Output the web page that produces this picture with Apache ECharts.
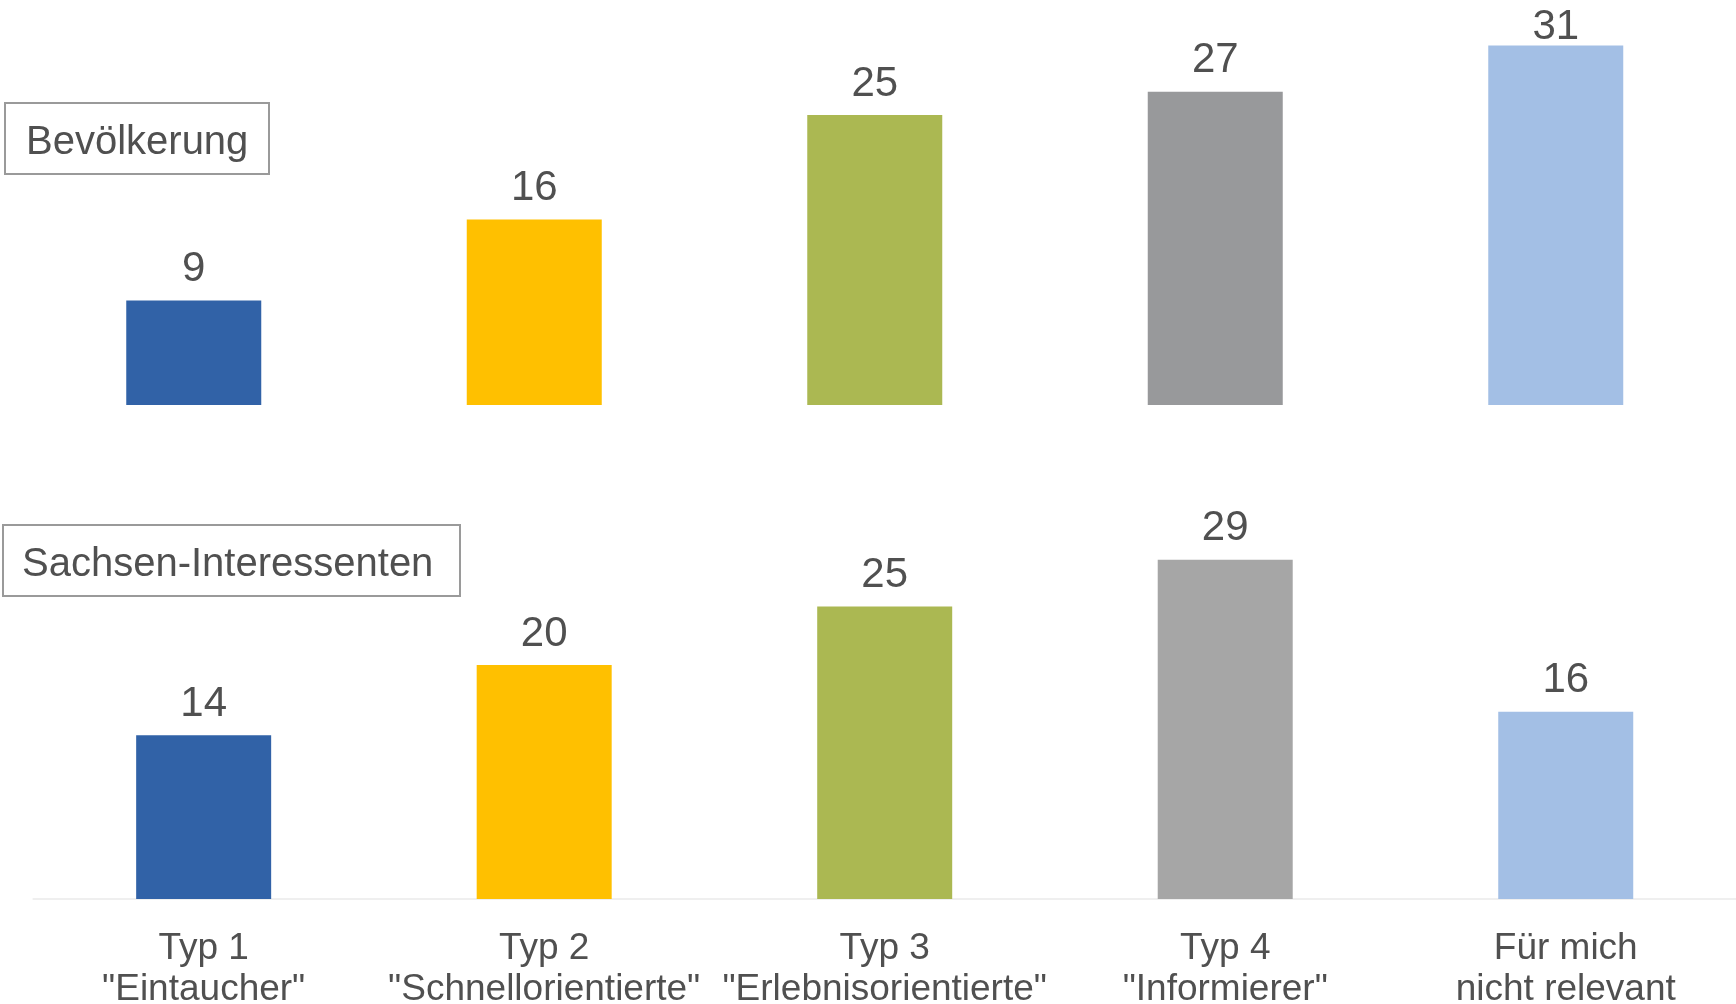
<!DOCTYPE html>
<html>
<head>
<meta charset="utf-8">
<script src="https://cdn.jsdelivr.net/npm/echarts@6/dist/echarts.min.js"></script>
<style>
html,body{margin:0;padding:0;background:#fff;}
#chart{width:1736px;height:1004px;}
</style>
</head>
<body>
<div id="chart"></div>
<script>
const categories = ['Typ 1\n"Eintaucher"', 'Typ 2\n"Schnellorientierte"', 'Typ 3\n"Erlebnisorientierte"', 'Typ 4\n"Informierer"', 'Für mich\nnicht relevant'];
const bevoelkerung = [9, 16, 25, 27, 31];
const interessenten = [14, 20, 25, 29, 16];
const colorsTop = ['#3162A7', '#FFC000', '#ABB852', '#98999B', '#A3BFE5'];
const colorsBottom = ['#3162A7', '#FFC000', '#ABB852', '#A6A6A6', '#A3BFE5'];
const groupNames = ['Bevölkerung', 'Sachsen-Interessenten'];

const pxTop = 11.6, pxBot = 11.7;
const topMax = 34, botMax = 30;
const font = 'Liberation Sans, Arial, sans-serif';
const txt = '#505050';

const chart = echarts.init(document.getElementById('chart'), null, {renderer: 'canvas'});

// labels that would leave the canvas are tucked closer to the bar (as in the original)
function barData(vals, cols, pxPerUnit, baseY) {
  return vals.map((v, i) => {
    const item = {value: v, itemStyle: {color: cols[i]}};
    if (baseY - v * pxPerUnit < 60) item.label = {distance: -3};
    return item;
  });
}

chart.setOption({
  animation: false,
  backgroundColor: '#fff',
  title: [
    {
      text: groupNames[0], left: 5, top: 103,
      padding: [20, 21, 11, 21],
      borderColor: '#9a9a9a', borderWidth: 2,
      textStyle: {fontFamily: font, fontSize: 40, fontWeight: 'normal', color: txt, lineHeight: 40}
    },
    {
      text: groupNames[1], left: 3, top: 525,
      padding: [20, 27, 11, 19],
      borderColor: '#9a9a9a', borderWidth: 2,
      textStyle: {fontFamily: font, fontSize: 40, fontWeight: 'normal', color: txt, lineHeight: 40}
    }
  ],
  grid: [
    {left: 23.5, width: 1702.5, top: 405 - topMax * pxTop, height: topMax * pxTop, containLabel: false, outerBoundsMode: 'none'},
    {left: 33.4, width: 1702.6, top: 899 - botMax * pxBot, height: botMax * pxBot, containLabel: false, outerBoundsMode: 'none'}
  ],
  xAxis: [
    {type: 'category', gridIndex: 0, data: categories, axisLine: {show: false}, axisTick: {show: false}, axisLabel: {show: false}},
    {type: 'category', gridIndex: 1, data: categories,
      axisLine: {show: true, lineStyle: {color: '#EFEFEF', width: 2}},
      axisTick: {show: false},
      axisLabel: {show: true, interval: 0, margin: 29, fontFamily: font, fontSize: 37, lineHeight: 41, color: txt}}
  ],
  yAxis: [
    {type: 'value', gridIndex: 0, min: 0, max: topMax, show: false, splitLine: {show: false}},
    {type: 'value', gridIndex: 1, min: 0, max: botMax, show: false, splitLine: {show: false}}
  ],
  series: [
    {type: 'bar', xAxisIndex: 0, yAxisIndex: 0, barWidth: 135, data: barData(bevoelkerung, colorsTop, pxTop, 405),
      label: {show: true, position: 'top', distance: 10, fontFamily: font, fontSize: 42, color: txt}},
    {type: 'bar', xAxisIndex: 1, yAxisIndex: 1, barWidth: 135, data: barData(interessenten, colorsBottom, pxBot, 899),
      label: {show: true, position: 'top', distance: 10, fontFamily: font, fontSize: 42, color: txt}}
  ]
});
</script>
</body>
</html>
